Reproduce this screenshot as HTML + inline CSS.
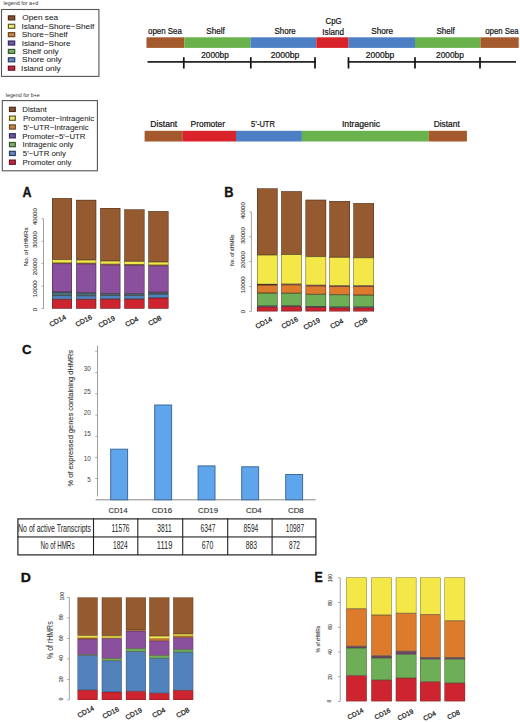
<!DOCTYPE html>
<html><head><meta charset="utf-8"><style>
html,body{margin:0;padding:0;background:#fff;}
body{width:520px;height:722px;position:relative;overflow:hidden;font-family:"Liberation Sans", sans-serif;}
body>div{position:absolute;}
.t{white-space:nowrap;line-height:1;}
</style></head><body>
<svg width="520" height="722" viewBox="0 0 520 722" style="position:absolute;left:0;top:0"><rect x="1.5" y="9.5" width="97.4" height="66.9" fill="none" stroke="#555" stroke-width="1.1"/><rect x="8.4" y="15.9" width="6.3" height="4" fill="#865234" stroke="#4e2d18" stroke-width="1.2"/><rect x="8.4" y="24.28" width="6.3" height="4" fill="#ece97a" stroke="#5e5a22" stroke-width="1.2"/><rect x="8.4" y="32.66" width="6.3" height="4" fill="#c4874a" stroke="#6e4520" stroke-width="1.2"/><rect x="8.4" y="41.04" width="6.3" height="4" fill="#6e5aa0" stroke="#3a2866" stroke-width="1.2"/><rect x="8.4" y="49.42" width="6.3" height="4" fill="#82ae6c" stroke="#32592a" stroke-width="1.2"/><rect x="8.4" y="57.8" width="6.3" height="4" fill="#6e87b9" stroke="#2a3c6e" stroke-width="1.2"/><rect x="8.4" y="66.18" width="6.3" height="4" fill="#be2a40" stroke="#6e1222" stroke-width="1.2"/><rect x="2.3" y="100.6" width="95.1" height="70.2" fill="none" stroke="#555" stroke-width="1.1"/><rect x="9.5" y="107.3" width="5.8" height="4.2" fill="#865234" stroke="#4e2d18" stroke-width="1.2"/><rect x="9.5" y="116.1" width="5.8" height="4.2" fill="#ece97a" stroke="#5e5a22" stroke-width="1.2"/><rect x="9.5" y="124.9" width="5.8" height="4.2" fill="#c4874a" stroke="#6e4520" stroke-width="1.2"/><rect x="9.5" y="133.7" width="5.8" height="4.2" fill="#6e5aa0" stroke="#3a2866" stroke-width="1.2"/><rect x="9.5" y="142.5" width="5.8" height="4.2" fill="#82ae6c" stroke="#32592a" stroke-width="1.2"/><rect x="9.5" y="151.3" width="5.8" height="4.2" fill="#6e87b9" stroke="#2a3c6e" stroke-width="1.2"/><rect x="9.5" y="160.1" width="5.8" height="4.2" fill="#be2a40" stroke="#6e1222" stroke-width="1.2"/><rect x="146.5" y="37.3" width="38" height="10.6" fill="#a45a2c"/><rect x="184.5" y="37.3" width="65.9" height="10.6" fill="#6ab24c"/><rect x="250.4" y="37.3" width="65.9" height="10.6" fill="#4d7fc4"/><rect x="316.3" y="37.3" width="32.3" height="10.6" fill="#d8232b"/><rect x="348.6" y="37.3" width="66.4" height="10.6" fill="#4d7fc4"/><rect x="415" y="37.3" width="65.4" height="10.6" fill="#6ab24c"/><rect x="480.4" y="37.3" width="38.3" height="10.6" fill="#a45a2c"/><rect x="147.5" y="61.1" width="168.3" height="1.6" fill="#111"/><rect x="347.8" y="61.1" width="168.2" height="1.6" fill="#111"/><rect x="182.95" y="57.2" width="1.7" height="11.3" fill="#111"/><rect x="249.95" y="57.2" width="1.7" height="11.3" fill="#111"/><rect x="314.15" y="57.2" width="1.7" height="11.3" fill="#111"/><rect x="347.65" y="57.2" width="1.7" height="11.3" fill="#111"/><rect x="414.15" y="57.2" width="1.7" height="11.3" fill="#111"/><rect x="479.15" y="57.2" width="1.7" height="11.3" fill="#111"/><rect x="144.6" y="130.8" width="37.7" height="10.7" fill="#a45a2c"/><rect x="182.3" y="130.8" width="53.7" height="10.7" fill="#d8232b"/><rect x="236" y="130.8" width="65.9" height="10.7" fill="#4d7fc4"/><rect x="301.9" y="130.8" width="126.6" height="10.7" fill="#6ab24c"/><rect x="428.5" y="130.8" width="38.4" height="10.7" fill="#a45a2c"/><rect x="43.2" y="218.8" width="0.8" height="89.8" fill="#8c8c8c"/><rect x="41.4" y="308.25" width="2.2" height="0.7" fill="#8c8c8c"/><rect x="41.4" y="285.8" width="2.2" height="0.7" fill="#8c8c8c"/><rect x="41.4" y="263.35" width="2.2" height="0.7" fill="#8c8c8c"/><rect x="41.4" y="240.9" width="2.2" height="0.7" fill="#8c8c8c"/><rect x="41.4" y="218.45" width="2.2" height="0.7" fill="#8c8c8c"/><rect x="52" y="198.2" width="20" height="61.4" fill="#965a31"/><rect x="52" y="259.6" width="20" height="3.4" fill="#f3e848"/><rect x="52" y="263" width="20" height="0.6" fill="#dd7b2d"/><rect x="52" y="263.6" width="20" height="28.4" fill="#8a509e"/><rect x="52" y="292" width="20" height="3.6" fill="#476f7c"/><rect x="52" y="295.6" width="20" height="3.7" fill="#5282bc"/><rect x="52" y="299.3" width="20" height="9.3" fill="#cd2430"/><rect x="52.23" y="198.42" width="19.55" height="60.95" fill="none" stroke="#2a1a14" stroke-width="0.45" stroke-opacity="0.8"/><rect x="52.23" y="259.83" width="19.55" height="2.95" fill="none" stroke="#2a1a14" stroke-width="0.45" stroke-opacity="0.8"/><rect x="52.23" y="263.23" width="19.55" height="0.15" fill="none" stroke="#2a1a14" stroke-width="0.45" stroke-opacity="0.8"/><rect x="52.23" y="263.83" width="19.55" height="27.95" fill="none" stroke="#2a1a14" stroke-width="0.45" stroke-opacity="0.8"/><rect x="52.23" y="292.23" width="19.55" height="3.15" fill="none" stroke="#2a1a14" stroke-width="0.45" stroke-opacity="0.8"/><rect x="52.23" y="295.83" width="19.55" height="3.25" fill="none" stroke="#2a1a14" stroke-width="0.45" stroke-opacity="0.8"/><rect x="52.23" y="299.53" width="19.55" height="8.85" fill="none" stroke="#2a1a14" stroke-width="0.45" stroke-opacity="0.8"/><rect x="76.2" y="199.9" width="20" height="60" fill="#965a31"/><rect x="76.2" y="259.9" width="20" height="3.3" fill="#f3e848"/><rect x="76.2" y="263.2" width="20" height="0.6" fill="#dd7b2d"/><rect x="76.2" y="263.8" width="20" height="29" fill="#8a509e"/><rect x="76.2" y="292.8" width="20" height="2.9" fill="#476f7c"/><rect x="76.2" y="295.7" width="20" height="3.6" fill="#5282bc"/><rect x="76.2" y="299.3" width="20" height="9.3" fill="#cd2430"/><rect x="76.42" y="200.12" width="19.55" height="59.55" fill="none" stroke="#2a1a14" stroke-width="0.45" stroke-opacity="0.8"/><rect x="76.42" y="260.12" width="19.55" height="2.85" fill="none" stroke="#2a1a14" stroke-width="0.45" stroke-opacity="0.8"/><rect x="76.42" y="263.43" width="19.55" height="0.15" fill="none" stroke="#2a1a14" stroke-width="0.45" stroke-opacity="0.8"/><rect x="76.42" y="264.03" width="19.55" height="28.55" fill="none" stroke="#2a1a14" stroke-width="0.45" stroke-opacity="0.8"/><rect x="76.42" y="293.03" width="19.55" height="2.45" fill="none" stroke="#2a1a14" stroke-width="0.45" stroke-opacity="0.8"/><rect x="76.42" y="295.93" width="19.55" height="3.15" fill="none" stroke="#2a1a14" stroke-width="0.45" stroke-opacity="0.8"/><rect x="76.42" y="299.53" width="19.55" height="8.85" fill="none" stroke="#2a1a14" stroke-width="0.45" stroke-opacity="0.8"/><rect x="100.3" y="208" width="20" height="52.9" fill="#965a31"/><rect x="100.3" y="260.9" width="20" height="3.3" fill="#f3e848"/><rect x="100.3" y="264.2" width="20" height="0.6" fill="#dd7b2d"/><rect x="100.3" y="264.8" width="20" height="28.8" fill="#8a509e"/><rect x="100.3" y="293.6" width="20" height="1.8" fill="#476f7c"/><rect x="100.3" y="295.4" width="20" height="3.7" fill="#5282bc"/><rect x="100.3" y="299.1" width="20" height="9.5" fill="#cd2430"/><rect x="100.52" y="208.22" width="19.55" height="52.45" fill="none" stroke="#2a1a14" stroke-width="0.45" stroke-opacity="0.8"/><rect x="100.52" y="261.12" width="19.55" height="2.85" fill="none" stroke="#2a1a14" stroke-width="0.45" stroke-opacity="0.8"/><rect x="100.52" y="264.43" width="19.55" height="0.15" fill="none" stroke="#2a1a14" stroke-width="0.45" stroke-opacity="0.8"/><rect x="100.52" y="265.03" width="19.55" height="28.35" fill="none" stroke="#2a1a14" stroke-width="0.45" stroke-opacity="0.8"/><rect x="100.52" y="293.83" width="19.55" height="1.35" fill="none" stroke="#2a1a14" stroke-width="0.45" stroke-opacity="0.8"/><rect x="100.52" y="295.62" width="19.55" height="3.25" fill="none" stroke="#2a1a14" stroke-width="0.45" stroke-opacity="0.8"/><rect x="100.52" y="299.33" width="19.55" height="9.05" fill="none" stroke="#2a1a14" stroke-width="0.45" stroke-opacity="0.8"/><rect x="124.4" y="209.5" width="20" height="51.8" fill="#965a31"/><rect x="124.4" y="261.3" width="20" height="3.3" fill="#f3e848"/><rect x="124.4" y="264.6" width="20" height="0.6" fill="#dd7b2d"/><rect x="124.4" y="265.2" width="20" height="28.5" fill="#8a509e"/><rect x="124.4" y="293.7" width="20" height="1.7" fill="#476f7c"/><rect x="124.4" y="295.4" width="20" height="3.7" fill="#5282bc"/><rect x="124.4" y="299.1" width="20" height="9.5" fill="#cd2430"/><rect x="124.62" y="209.72" width="19.55" height="51.35" fill="none" stroke="#2a1a14" stroke-width="0.45" stroke-opacity="0.8"/><rect x="124.62" y="261.53" width="19.55" height="2.85" fill="none" stroke="#2a1a14" stroke-width="0.45" stroke-opacity="0.8"/><rect x="124.62" y="264.83" width="19.55" height="0.15" fill="none" stroke="#2a1a14" stroke-width="0.45" stroke-opacity="0.8"/><rect x="124.62" y="265.43" width="19.55" height="28.05" fill="none" stroke="#2a1a14" stroke-width="0.45" stroke-opacity="0.8"/><rect x="124.62" y="293.93" width="19.55" height="1.25" fill="none" stroke="#2a1a14" stroke-width="0.45" stroke-opacity="0.8"/><rect x="124.62" y="295.62" width="19.55" height="3.25" fill="none" stroke="#2a1a14" stroke-width="0.45" stroke-opacity="0.8"/><rect x="124.62" y="299.33" width="19.55" height="9.05" fill="none" stroke="#2a1a14" stroke-width="0.45" stroke-opacity="0.8"/><rect x="148.4" y="211.2" width="20" height="50.7" fill="#965a31"/><rect x="148.4" y="261.9" width="20" height="3.2" fill="#f3e848"/><rect x="148.4" y="265.1" width="20" height="0.6" fill="#dd7b2d"/><rect x="148.4" y="265.7" width="20" height="26.5" fill="#8a509e"/><rect x="148.4" y="292.2" width="20" height="1.9" fill="#476f7c"/><rect x="148.4" y="294.1" width="20" height="3.9" fill="#5282bc"/><rect x="148.4" y="298" width="20" height="10.6" fill="#cd2430"/><rect x="148.62" y="211.42" width="19.55" height="50.25" fill="none" stroke="#2a1a14" stroke-width="0.45" stroke-opacity="0.8"/><rect x="148.62" y="262.12" width="19.55" height="2.75" fill="none" stroke="#2a1a14" stroke-width="0.45" stroke-opacity="0.8"/><rect x="148.62" y="265.33" width="19.55" height="0.15" fill="none" stroke="#2a1a14" stroke-width="0.45" stroke-opacity="0.8"/><rect x="148.62" y="265.93" width="19.55" height="26.05" fill="none" stroke="#2a1a14" stroke-width="0.45" stroke-opacity="0.8"/><rect x="148.62" y="292.43" width="19.55" height="1.45" fill="none" stroke="#2a1a14" stroke-width="0.45" stroke-opacity="0.8"/><rect x="148.62" y="294.33" width="19.55" height="3.45" fill="none" stroke="#2a1a14" stroke-width="0.45" stroke-opacity="0.8"/><rect x="148.62" y="298.23" width="19.55" height="10.15" fill="none" stroke="#2a1a14" stroke-width="0.45" stroke-opacity="0.8"/><rect x="250.9" y="211.98" width="0.8" height="99.32" fill="#8c8c8c"/><rect x="249.1" y="310.95" width="2.2" height="0.7" fill="#8c8c8c"/><rect x="249.1" y="286.12" width="2.2" height="0.7" fill="#8c8c8c"/><rect x="249.1" y="261.29" width="2.2" height="0.7" fill="#8c8c8c"/><rect x="249.1" y="236.46" width="2.2" height="0.7" fill="#8c8c8c"/><rect x="249.1" y="211.63" width="2.2" height="0.7" fill="#8c8c8c"/><rect x="257" y="188.5" width="20.5" height="66.4" fill="#965a31"/><rect x="257" y="254.9" width="20.5" height="29.4" fill="#f3e848"/><rect x="257" y="284.3" width="20.5" height="0.7" fill="#8a509e"/><rect x="257" y="285" width="20.5" height="8" fill="#dd7b2d"/><rect x="257" y="293" width="20.5" height="13" fill="#6dae56"/><rect x="257" y="306" width="20.5" height="0.8" fill="#5282bc"/><rect x="257" y="306.8" width="20.5" height="4.5" fill="#cd2430"/><rect x="257.23" y="188.72" width="20.05" height="65.95" fill="none" stroke="#2a1a14" stroke-width="0.45" stroke-opacity="0.8"/><rect x="257.23" y="255.12" width="20.05" height="28.95" fill="none" stroke="#2a1a14" stroke-width="0.45" stroke-opacity="0.8"/><rect x="257.23" y="284.53" width="20.05" height="0.25" fill="none" stroke="#2a1a14" stroke-width="0.45" stroke-opacity="0.8"/><rect x="257.23" y="285.23" width="20.05" height="7.55" fill="none" stroke="#2a1a14" stroke-width="0.45" stroke-opacity="0.8"/><rect x="257.23" y="293.23" width="20.05" height="12.55" fill="none" stroke="#2a1a14" stroke-width="0.45" stroke-opacity="0.8"/><rect x="257.23" y="306.23" width="20.05" height="0.35" fill="none" stroke="#2a1a14" stroke-width="0.45" stroke-opacity="0.8"/><rect x="257.23" y="307.03" width="20.05" height="4.05" fill="none" stroke="#2a1a14" stroke-width="0.45" stroke-opacity="0.8"/><rect x="281.3" y="191.3" width="20.5" height="63.2" fill="#965a31"/><rect x="281.3" y="254.5" width="20.5" height="29.6" fill="#f3e848"/><rect x="281.3" y="284.1" width="20.5" height="0.7" fill="#8a509e"/><rect x="281.3" y="284.8" width="20.5" height="8.4" fill="#dd7b2d"/><rect x="281.3" y="293.2" width="20.5" height="12.6" fill="#6dae56"/><rect x="281.3" y="305.8" width="20.5" height="0.8" fill="#5282bc"/><rect x="281.3" y="306.6" width="20.5" height="4.7" fill="#cd2430"/><rect x="281.53" y="191.53" width="20.05" height="62.75" fill="none" stroke="#2a1a14" stroke-width="0.45" stroke-opacity="0.8"/><rect x="281.53" y="254.72" width="20.05" height="29.15" fill="none" stroke="#2a1a14" stroke-width="0.45" stroke-opacity="0.8"/><rect x="281.53" y="284.33" width="20.05" height="0.25" fill="none" stroke="#2a1a14" stroke-width="0.45" stroke-opacity="0.8"/><rect x="281.53" y="285.03" width="20.05" height="7.95" fill="none" stroke="#2a1a14" stroke-width="0.45" stroke-opacity="0.8"/><rect x="281.53" y="293.43" width="20.05" height="12.15" fill="none" stroke="#2a1a14" stroke-width="0.45" stroke-opacity="0.8"/><rect x="281.53" y="306.03" width="20.05" height="0.35" fill="none" stroke="#2a1a14" stroke-width="0.45" stroke-opacity="0.8"/><rect x="281.53" y="306.83" width="20.05" height="4.25" fill="none" stroke="#2a1a14" stroke-width="0.45" stroke-opacity="0.8"/><rect x="305.6" y="199.8" width="20.5" height="56.8" fill="#965a31"/><rect x="305.6" y="256.6" width="20.5" height="28.6" fill="#f3e848"/><rect x="305.6" y="285.2" width="20.5" height="0.7" fill="#8a509e"/><rect x="305.6" y="285.9" width="20.5" height="8.4" fill="#dd7b2d"/><rect x="305.6" y="294.3" width="20.5" height="12.2" fill="#6dae56"/><rect x="305.6" y="306.5" width="20.5" height="0.8" fill="#5282bc"/><rect x="305.6" y="307.3" width="20.5" height="4" fill="#cd2430"/><rect x="305.83" y="200.03" width="20.05" height="56.35" fill="none" stroke="#2a1a14" stroke-width="0.45" stroke-opacity="0.8"/><rect x="305.83" y="256.83" width="20.05" height="28.15" fill="none" stroke="#2a1a14" stroke-width="0.45" stroke-opacity="0.8"/><rect x="305.83" y="285.43" width="20.05" height="0.25" fill="none" stroke="#2a1a14" stroke-width="0.45" stroke-opacity="0.8"/><rect x="305.83" y="286.12" width="20.05" height="7.95" fill="none" stroke="#2a1a14" stroke-width="0.45" stroke-opacity="0.8"/><rect x="305.83" y="294.53" width="20.05" height="11.75" fill="none" stroke="#2a1a14" stroke-width="0.45" stroke-opacity="0.8"/><rect x="305.83" y="306.73" width="20.05" height="0.35" fill="none" stroke="#2a1a14" stroke-width="0.45" stroke-opacity="0.8"/><rect x="305.83" y="307.53" width="20.05" height="3.55" fill="none" stroke="#2a1a14" stroke-width="0.45" stroke-opacity="0.8"/><rect x="329.5" y="201.1" width="20.5" height="56.2" fill="#965a31"/><rect x="329.5" y="257.3" width="20.5" height="28.5" fill="#f3e848"/><rect x="329.5" y="285.8" width="20.5" height="0.7" fill="#8a509e"/><rect x="329.5" y="286.5" width="20.5" height="8.2" fill="#dd7b2d"/><rect x="329.5" y="294.7" width="20.5" height="12.3" fill="#6dae56"/><rect x="329.5" y="307" width="20.5" height="0.8" fill="#5282bc"/><rect x="329.5" y="307.8" width="20.5" height="3.5" fill="#cd2430"/><rect x="329.73" y="201.32" width="20.05" height="55.75" fill="none" stroke="#2a1a14" stroke-width="0.45" stroke-opacity="0.8"/><rect x="329.73" y="257.53" width="20.05" height="28.05" fill="none" stroke="#2a1a14" stroke-width="0.45" stroke-opacity="0.8"/><rect x="329.73" y="286.03" width="20.05" height="0.25" fill="none" stroke="#2a1a14" stroke-width="0.45" stroke-opacity="0.8"/><rect x="329.73" y="286.73" width="20.05" height="7.75" fill="none" stroke="#2a1a14" stroke-width="0.45" stroke-opacity="0.8"/><rect x="329.73" y="294.93" width="20.05" height="11.85" fill="none" stroke="#2a1a14" stroke-width="0.45" stroke-opacity="0.8"/><rect x="329.73" y="307.23" width="20.05" height="0.35" fill="none" stroke="#2a1a14" stroke-width="0.45" stroke-opacity="0.8"/><rect x="329.73" y="308.03" width="20.05" height="3.05" fill="none" stroke="#2a1a14" stroke-width="0.45" stroke-opacity="0.8"/><rect x="353.5" y="203.2" width="20.5" height="54.5" fill="#965a31"/><rect x="353.5" y="257.7" width="20.5" height="28.1" fill="#f3e848"/><rect x="353.5" y="285.8" width="20.5" height="0.7" fill="#8a509e"/><rect x="353.5" y="286.5" width="20.5" height="8.6" fill="#dd7b2d"/><rect x="353.5" y="295.1" width="20.5" height="11.9" fill="#6dae56"/><rect x="353.5" y="307" width="20.5" height="0.8" fill="#5282bc"/><rect x="353.5" y="307.8" width="20.5" height="3.5" fill="#cd2430"/><rect x="353.73" y="203.42" width="20.05" height="54.05" fill="none" stroke="#2a1a14" stroke-width="0.45" stroke-opacity="0.8"/><rect x="353.73" y="257.93" width="20.05" height="27.65" fill="none" stroke="#2a1a14" stroke-width="0.45" stroke-opacity="0.8"/><rect x="353.73" y="286.03" width="20.05" height="0.25" fill="none" stroke="#2a1a14" stroke-width="0.45" stroke-opacity="0.8"/><rect x="353.73" y="286.73" width="20.05" height="8.15" fill="none" stroke="#2a1a14" stroke-width="0.45" stroke-opacity="0.8"/><rect x="353.73" y="295.33" width="20.05" height="11.45" fill="none" stroke="#2a1a14" stroke-width="0.45" stroke-opacity="0.8"/><rect x="353.73" y="307.23" width="20.05" height="0.35" fill="none" stroke="#2a1a14" stroke-width="0.45" stroke-opacity="0.8"/><rect x="353.73" y="308.03" width="20.05" height="3.05" fill="none" stroke="#2a1a14" stroke-width="0.45" stroke-opacity="0.8"/><rect x="97" y="345.7" width="0.8" height="150.8" fill="#888"/><rect x="95.2" y="350.85" width="2.2" height="0.7" fill="#888"/><rect x="95.2" y="372.35" width="2.2" height="0.7" fill="#888"/><rect x="95.2" y="393.55" width="2.2" height="0.7" fill="#888"/><rect x="95.2" y="414.75" width="2.2" height="0.7" fill="#888"/><rect x="95.2" y="435.85" width="2.2" height="0.7" fill="#888"/><rect x="95.2" y="456.95" width="2.2" height="0.7" fill="#888"/><rect x="95.2" y="478.05" width="2.2" height="0.7" fill="#888"/><rect x="95.6" y="499.3" width="220" height="1" fill="#888"/><rect x="110.7" y="449.2" width="16.9" height="50.6" fill="#5fa5eb" stroke="#3f6a9c" stroke-width="1"/><rect x="154.7" y="405" width="16.9" height="94.8" fill="#5fa5eb" stroke="#3f6a9c" stroke-width="1"/><rect x="198.1" y="465.9" width="16.9" height="33.9" fill="#5fa5eb" stroke="#3f6a9c" stroke-width="1"/><rect x="241.7" y="466.8" width="16.9" height="33" fill="#5fa5eb" stroke="#3f6a9c" stroke-width="1"/><rect x="285.7" y="474.5" width="16.9" height="25.3" fill="#5fa5eb" stroke="#3f6a9c" stroke-width="1"/><rect x="17.9" y="518.9" width="298" height="36" fill="none" stroke="#222" stroke-width="1.2"/><rect x="17.3" y="536.4" width="298.7" height="1.1" fill="#222"/><rect x="92.95" y="518.3" width="1.1" height="36.7" fill="#222"/><rect x="137.25" y="518.3" width="1.1" height="36.7" fill="#222"/><rect x="182.15" y="518.3" width="1.1" height="36.7" fill="#222"/><rect x="227.15" y="518.3" width="1.1" height="36.7" fill="#222"/><rect x="271.55" y="518.3" width="1.1" height="36.7" fill="#222"/><rect x="68.9" y="597.4" width="0.8" height="102.5" fill="#8c8c8c"/><rect x="67.1" y="699.55" width="2.2" height="0.7" fill="#8c8c8c"/><rect x="67.1" y="679.05" width="2.2" height="0.7" fill="#8c8c8c"/><rect x="67.1" y="658.55" width="2.2" height="0.7" fill="#8c8c8c"/><rect x="67.1" y="638.05" width="2.2" height="0.7" fill="#8c8c8c"/><rect x="67.1" y="617.55" width="2.2" height="0.7" fill="#8c8c8c"/><rect x="67.1" y="597.05" width="2.2" height="0.7" fill="#8c8c8c"/><rect x="77.6" y="597.5" width="20" height="38.2" fill="#965a31"/><rect x="77.6" y="635.7" width="20" height="2.3" fill="#f3e848"/><rect x="77.6" y="638" width="20" height="1.1" fill="#dd7b2d"/><rect x="77.6" y="639.1" width="20" height="15.5" fill="#8a509e"/><rect x="77.6" y="654.6" width="20" height="0.8" fill="#6dae56"/><rect x="77.6" y="655.4" width="20" height="34.7" fill="#5282bc"/><rect x="77.6" y="690.1" width="20" height="9.9" fill="#cd2430"/><rect x="77.8" y="597.7" width="19.6" height="37.8" fill="none" stroke="#2a1a14" stroke-width="0.4" stroke-opacity="0.55"/><rect x="77.8" y="635.9" width="19.6" height="1.9" fill="none" stroke="#2a1a14" stroke-width="0.4" stroke-opacity="0.55"/><rect x="77.8" y="638.2" width="19.6" height="0.7" fill="none" stroke="#2a1a14" stroke-width="0.4" stroke-opacity="0.55"/><rect x="77.8" y="639.3" width="19.6" height="15.1" fill="none" stroke="#2a1a14" stroke-width="0.4" stroke-opacity="0.55"/><rect x="77.8" y="654.8" width="19.6" height="0.4" fill="none" stroke="#2a1a14" stroke-width="0.4" stroke-opacity="0.55"/><rect x="77.8" y="655.6" width="19.6" height="34.3" fill="none" stroke="#2a1a14" stroke-width="0.4" stroke-opacity="0.55"/><rect x="77.8" y="690.3" width="19.6" height="9.5" fill="none" stroke="#2a1a14" stroke-width="0.4" stroke-opacity="0.55"/><rect x="101.8" y="597.5" width="20" height="38.4" fill="#965a31"/><rect x="101.8" y="635.9" width="20" height="2.2" fill="#f3e848"/><rect x="101.8" y="638.1" width="20" height="0.4" fill="#dd7b2d"/><rect x="101.8" y="638.5" width="20" height="20" fill="#8a509e"/><rect x="101.8" y="658.5" width="20" height="2.3" fill="#6dae56"/><rect x="101.8" y="660.8" width="20" height="31.2" fill="#5282bc"/><rect x="101.8" y="692" width="20" height="8" fill="#cd2430"/><rect x="102" y="597.7" width="19.6" height="38" fill="none" stroke="#2a1a14" stroke-width="0.4" stroke-opacity="0.55"/><rect x="102" y="636.1" width="19.6" height="1.8" fill="none" stroke="#2a1a14" stroke-width="0.4" stroke-opacity="0.55"/><rect x="102" y="638.3" width="19.6" height="0.01" fill="none" stroke="#2a1a14" stroke-width="0.4" stroke-opacity="0.55"/><rect x="102" y="638.7" width="19.6" height="19.6" fill="none" stroke="#2a1a14" stroke-width="0.4" stroke-opacity="0.55"/><rect x="102" y="658.7" width="19.6" height="1.9" fill="none" stroke="#2a1a14" stroke-width="0.4" stroke-opacity="0.55"/><rect x="102" y="661" width="19.6" height="30.8" fill="none" stroke="#2a1a14" stroke-width="0.4" stroke-opacity="0.55"/><rect x="102" y="692.2" width="19.6" height="7.6" fill="none" stroke="#2a1a14" stroke-width="0.4" stroke-opacity="0.55"/><rect x="125.9" y="597.5" width="20" height="32.5" fill="#965a31"/><rect x="125.9" y="630" width="20" height="0.4" fill="#f3e848"/><rect x="125.9" y="630.4" width="20" height="0.6" fill="#dd7b2d"/><rect x="125.9" y="631" width="20" height="17.6" fill="#8a509e"/><rect x="125.9" y="648.6" width="20" height="3" fill="#6dae56"/><rect x="125.9" y="651.6" width="20" height="39.7" fill="#5282bc"/><rect x="125.9" y="691.3" width="20" height="8.7" fill="#cd2430"/><rect x="126.1" y="597.7" width="19.6" height="32.1" fill="none" stroke="#2a1a14" stroke-width="0.4" stroke-opacity="0.55"/><rect x="126.1" y="630.2" width="19.6" height="0.01" fill="none" stroke="#2a1a14" stroke-width="0.4" stroke-opacity="0.55"/><rect x="126.1" y="630.6" width="19.6" height="0.2" fill="none" stroke="#2a1a14" stroke-width="0.4" stroke-opacity="0.55"/><rect x="126.1" y="631.2" width="19.6" height="17.2" fill="none" stroke="#2a1a14" stroke-width="0.4" stroke-opacity="0.55"/><rect x="126.1" y="648.8" width="19.6" height="2.6" fill="none" stroke="#2a1a14" stroke-width="0.4" stroke-opacity="0.55"/><rect x="126.1" y="651.8" width="19.6" height="39.3" fill="none" stroke="#2a1a14" stroke-width="0.4" stroke-opacity="0.55"/><rect x="126.1" y="691.5" width="19.6" height="8.3" fill="none" stroke="#2a1a14" stroke-width="0.4" stroke-opacity="0.55"/><rect x="149.3" y="597.5" width="20" height="38.6" fill="#965a31"/><rect x="149.3" y="636.1" width="20" height="2.7" fill="#f3e848"/><rect x="149.3" y="638.8" width="20" height="2.1" fill="#dd7b2d"/><rect x="149.3" y="640.9" width="20" height="14.5" fill="#8a509e"/><rect x="149.3" y="655.4" width="20" height="2.9" fill="#6dae56"/><rect x="149.3" y="658.3" width="20" height="34.9" fill="#5282bc"/><rect x="149.3" y="693.2" width="20" height="6.8" fill="#cd2430"/><rect x="149.5" y="597.7" width="19.6" height="38.2" fill="none" stroke="#2a1a14" stroke-width="0.4" stroke-opacity="0.55"/><rect x="149.5" y="636.3" width="19.6" height="2.3" fill="none" stroke="#2a1a14" stroke-width="0.4" stroke-opacity="0.55"/><rect x="149.5" y="639" width="19.6" height="1.7" fill="none" stroke="#2a1a14" stroke-width="0.4" stroke-opacity="0.55"/><rect x="149.5" y="641.1" width="19.6" height="14.1" fill="none" stroke="#2a1a14" stroke-width="0.4" stroke-opacity="0.55"/><rect x="149.5" y="655.6" width="19.6" height="2.5" fill="none" stroke="#2a1a14" stroke-width="0.4" stroke-opacity="0.55"/><rect x="149.5" y="658.5" width="19.6" height="34.5" fill="none" stroke="#2a1a14" stroke-width="0.4" stroke-opacity="0.55"/><rect x="149.5" y="693.4" width="19.6" height="6.4" fill="none" stroke="#2a1a14" stroke-width="0.4" stroke-opacity="0.55"/><rect x="173.2" y="597.5" width="20" height="36.5" fill="#965a31"/><rect x="173.2" y="634" width="20" height="2.1" fill="#f3e848"/><rect x="173.2" y="636.1" width="20" height="1.6" fill="#dd7b2d"/><rect x="173.2" y="637.7" width="20" height="11.8" fill="#8a509e"/><rect x="173.2" y="649.5" width="20" height="2.7" fill="#6dae56"/><rect x="173.2" y="652.2" width="20" height="38.1" fill="#5282bc"/><rect x="173.2" y="690.3" width="20" height="9.7" fill="#cd2430"/><rect x="173.4" y="597.7" width="19.6" height="36.1" fill="none" stroke="#2a1a14" stroke-width="0.4" stroke-opacity="0.55"/><rect x="173.4" y="634.2" width="19.6" height="1.7" fill="none" stroke="#2a1a14" stroke-width="0.4" stroke-opacity="0.55"/><rect x="173.4" y="636.3" width="19.6" height="1.2" fill="none" stroke="#2a1a14" stroke-width="0.4" stroke-opacity="0.55"/><rect x="173.4" y="637.9" width="19.6" height="11.4" fill="none" stroke="#2a1a14" stroke-width="0.4" stroke-opacity="0.55"/><rect x="173.4" y="649.7" width="19.6" height="2.3" fill="none" stroke="#2a1a14" stroke-width="0.4" stroke-opacity="0.55"/><rect x="173.4" y="652.4" width="19.6" height="37.7" fill="none" stroke="#2a1a14" stroke-width="0.4" stroke-opacity="0.55"/><rect x="173.4" y="690.5" width="19.6" height="9.3" fill="none" stroke="#2a1a14" stroke-width="0.4" stroke-opacity="0.55"/><rect x="339.8" y="577.8" width="0.8" height="123.7" fill="#8c8c8c"/><rect x="338" y="701.15" width="2.2" height="0.7" fill="#8c8c8c"/><rect x="338" y="676.41" width="2.2" height="0.7" fill="#8c8c8c"/><rect x="338" y="651.67" width="2.2" height="0.7" fill="#8c8c8c"/><rect x="338" y="626.93" width="2.2" height="0.7" fill="#8c8c8c"/><rect x="338" y="602.19" width="2.2" height="0.7" fill="#8c8c8c"/><rect x="338" y="577.45" width="2.2" height="0.7" fill="#8c8c8c"/><rect x="346.2" y="577.5" width="20.6" height="31.25" fill="#f3e848"/><rect x="346.2" y="608.75" width="20.6" height="37.5" fill="#dd7b2d"/><rect x="346.2" y="646.25" width="20.6" height="1.75" fill="#6e4468"/><rect x="346.2" y="648" width="20.6" height="27.5" fill="#6dae56"/><rect x="346.2" y="675.5" width="20.6" height="25.8" fill="#cd2430"/><rect x="346.45" y="577.75" width="20.1" height="30.75" fill="none" stroke="#4a4a3a" stroke-width="0.5" stroke-opacity="0.7"/><rect x="346.45" y="609" width="20.1" height="37" fill="none" stroke="#4a4a3a" stroke-width="0.5" stroke-opacity="0.7"/><rect x="346.45" y="646.5" width="20.1" height="1.25" fill="none" stroke="#4a4a3a" stroke-width="0.5" stroke-opacity="0.7"/><rect x="346.45" y="648.25" width="20.1" height="27" fill="none" stroke="#4a4a3a" stroke-width="0.5" stroke-opacity="0.7"/><rect x="346.45" y="675.75" width="20.1" height="25.3" fill="none" stroke="#4a4a3a" stroke-width="0.5" stroke-opacity="0.7"/><rect x="371.3" y="577.5" width="20.6" height="37.5" fill="#f3e848"/><rect x="371.3" y="615" width="20.6" height="40.75" fill="#dd7b2d"/><rect x="371.3" y="655.75" width="20.6" height="2.25" fill="#6e4468"/><rect x="371.3" y="658" width="20.6" height="22" fill="#6dae56"/><rect x="371.3" y="680" width="20.6" height="21.3" fill="#cd2430"/><rect x="371.55" y="577.75" width="20.1" height="37" fill="none" stroke="#4a4a3a" stroke-width="0.5" stroke-opacity="0.7"/><rect x="371.55" y="615.25" width="20.1" height="40.25" fill="none" stroke="#4a4a3a" stroke-width="0.5" stroke-opacity="0.7"/><rect x="371.55" y="656" width="20.1" height="1.75" fill="none" stroke="#4a4a3a" stroke-width="0.5" stroke-opacity="0.7"/><rect x="371.55" y="658.25" width="20.1" height="21.5" fill="none" stroke="#4a4a3a" stroke-width="0.5" stroke-opacity="0.7"/><rect x="371.55" y="680.25" width="20.1" height="20.8" fill="none" stroke="#4a4a3a" stroke-width="0.5" stroke-opacity="0.7"/><rect x="395.8" y="577.5" width="20.6" height="35.75" fill="#f3e848"/><rect x="395.8" y="613.25" width="20.6" height="38" fill="#dd7b2d"/><rect x="395.8" y="651.25" width="20.6" height="3.25" fill="#6e4468"/><rect x="395.8" y="654.5" width="20.6" height="23.5" fill="#6dae56"/><rect x="395.8" y="678" width="20.6" height="23.3" fill="#cd2430"/><rect x="396.05" y="577.75" width="20.1" height="35.25" fill="none" stroke="#4a4a3a" stroke-width="0.5" stroke-opacity="0.7"/><rect x="396.05" y="613.5" width="20.1" height="37.5" fill="none" stroke="#4a4a3a" stroke-width="0.5" stroke-opacity="0.7"/><rect x="396.05" y="651.5" width="20.1" height="2.75" fill="none" stroke="#4a4a3a" stroke-width="0.5" stroke-opacity="0.7"/><rect x="396.05" y="654.75" width="20.1" height="23" fill="none" stroke="#4a4a3a" stroke-width="0.5" stroke-opacity="0.7"/><rect x="396.05" y="678.25" width="20.1" height="22.8" fill="none" stroke="#4a4a3a" stroke-width="0.5" stroke-opacity="0.7"/><rect x="420" y="577.5" width="20.6" height="37" fill="#f3e848"/><rect x="420" y="614.5" width="20.6" height="43" fill="#dd7b2d"/><rect x="420" y="657.5" width="20.6" height="1.75" fill="#6e4468"/><rect x="420" y="659.25" width="20.6" height="22.5" fill="#6dae56"/><rect x="420" y="681.75" width="20.6" height="19.55" fill="#cd2430"/><rect x="420.25" y="577.75" width="20.1" height="36.5" fill="none" stroke="#4a4a3a" stroke-width="0.5" stroke-opacity="0.7"/><rect x="420.25" y="614.75" width="20.1" height="42.5" fill="none" stroke="#4a4a3a" stroke-width="0.5" stroke-opacity="0.7"/><rect x="420.25" y="657.75" width="20.1" height="1.25" fill="none" stroke="#4a4a3a" stroke-width="0.5" stroke-opacity="0.7"/><rect x="420.25" y="659.5" width="20.1" height="22" fill="none" stroke="#4a4a3a" stroke-width="0.5" stroke-opacity="0.7"/><rect x="420.25" y="682" width="20.1" height="19.05" fill="none" stroke="#4a4a3a" stroke-width="0.5" stroke-opacity="0.7"/><rect x="444.5" y="577.5" width="20.6" height="43.25" fill="#f3e848"/><rect x="444.5" y="620.75" width="20.6" height="36.75" fill="#dd7b2d"/><rect x="444.5" y="657.5" width="20.6" height="1.75" fill="#6e4468"/><rect x="444.5" y="659.25" width="20.6" height="23.75" fill="#6dae56"/><rect x="444.5" y="683" width="20.6" height="18.3" fill="#cd2430"/><rect x="444.75" y="577.75" width="20.1" height="42.75" fill="none" stroke="#4a4a3a" stroke-width="0.5" stroke-opacity="0.7"/><rect x="444.75" y="621" width="20.1" height="36.25" fill="none" stroke="#4a4a3a" stroke-width="0.5" stroke-opacity="0.7"/><rect x="444.75" y="657.75" width="20.1" height="1.25" fill="none" stroke="#4a4a3a" stroke-width="0.5" stroke-opacity="0.7"/><rect x="444.75" y="659.5" width="20.1" height="23.25" fill="none" stroke="#4a4a3a" stroke-width="0.5" stroke-opacity="0.7"/><rect x="444.75" y="683.25" width="20.1" height="17.8" fill="none" stroke="#4a4a3a" stroke-width="0.5" stroke-opacity="0.7"/></svg>
<div class="t" style="left:3.54px;top:0.81px;font-size:5.4px;color:#333;">legend for a+d</div>
<div class="t" style="left:23.61px;top:14.44px;font-size:7.5px;color:#222;transform-origin:16.46px 3.33px;transform:scaleX(1.1050);-webkit-text-stroke:0.05px #222;">Open sea</div>
<div class="t" style="left:25.05px;top:22.83px;font-size:7.5px;color:#222;transform-origin:33.3px 3.33px;transform:scaleX(1.1050);-webkit-text-stroke:0.05px #222;">Island−Shore−Shelf</div>
<div class="t" style="left:24.08px;top:31.2px;font-size:7.5px;color:#222;transform-origin:20.93px 3.33px;transform:scaleX(1.1050);-webkit-text-stroke:0.05px #222;">Shore−Shelf</div>
<div class="t" style="left:23.9px;top:39.59px;font-size:7.5px;color:#222;transform-origin:22.35px 3.33px;transform:scaleX(1.1050);-webkit-text-stroke:0.05px #222;">Island−Shore</div>
<div class="t" style="left:23.63px;top:47.97px;font-size:7.5px;color:#222;transform-origin:16.65px 3.33px;transform:scaleX(1.1050);-webkit-text-stroke:0.05px #222;">Shelf only</div>
<div class="t" style="left:23.79px;top:56.35px;font-size:7.5px;color:#222;transform-origin:18.11px 3.33px;transform:scaleX(1.1050);-webkit-text-stroke:0.05px #222;">Shore only</div>
<div class="t" style="left:23.47px;top:64.73px;font-size:7.5px;color:#222;transform-origin:18.26px 3.33px;transform:scaleX(1.1050);-webkit-text-stroke:0.05px #222;">Island only</div>
<div class="t" style="left:5.81px;top:92.57px;font-size:5.3px;color:#333;">legend for b+e</div>
<div class="t" style="left:23.28px;top:106.13px;font-size:7.4px;color:#222;transform-origin:11.77px 3.28px;transform:scaleX(1.0600);-webkit-text-stroke:0.05px #222;">Distant</div>
<div class="t" style="left:24.6px;top:114.93px;font-size:7.4px;color:#222;transform-origin:33.82px 3.28px;transform:scaleX(1.0600);-webkit-text-stroke:0.05px #222;">Promoter−Intragenic</div>
<div class="t" style="left:24.74px;top:123.73px;font-size:7.4px;color:#222;transform-origin:30.97px 3.28px;transform:scaleX(1.0600);-webkit-text-stroke:0.05px #222;">5'−UTR−Intragenic</div>
<div class="t" style="left:24.37px;top:132.53px;font-size:7.4px;color:#222;transform-origin:30.01px 3.28px;transform:scaleX(1.0600);-webkit-text-stroke:0.05px #222;">Promoter−5'−UTR</div>
<div class="t" style="left:23.96px;top:141.33px;font-size:7.4px;color:#222;transform-origin:24.38px 3.28px;transform:scaleX(1.0600);-webkit-text-stroke:0.05px #222;">Intragenic only</div>
<div class="t" style="left:24.12px;top:150.13px;font-size:7.4px;color:#222;transform-origin:20.5px 3.28px;transform:scaleX(1.0600);-webkit-text-stroke:0.05px #222;">5'−UTR only</div>
<div class="t" style="left:23.97px;top:158.93px;font-size:7.4px;color:#222;transform-origin:23.31px 3.28px;transform:scaleX(1.0600);-webkit-text-stroke:0.05px #222;">Promoter only</div>
<div class="t" style="left:147.01px;top:27.28px;font-size:8.4px;color:#111;transform-origin:18.19px 3.78px;transform:scaleX(0.9468);-webkit-text-stroke:0.2px #111;">open Sea</div>
<div class="t" style="left:206.16px;top:27.08px;font-size:8.4px;color:#111;transform-origin:9.79px 3.78px;transform:scaleX(0.9663);-webkit-text-stroke:0.2px #111;">Shelf</div>
<div class="t" style="left:274.34px;top:27.08px;font-size:8.4px;color:#111;transform-origin:11.21px 3.78px;transform:scaleX(0.9496);-webkit-text-stroke:0.2px #111;">Shore</div>
<div class="t" style="left:325.12px;top:17.28px;font-size:8.4px;color:#111;transform-origin:8.53px 3.78px;transform:scaleX(0.9314);-webkit-text-stroke:0.2px #111;">CpG</div>
<div class="t" style="left:322.1px;top:27.58px;font-size:8.4px;color:#111;transform-origin:11.3px 3.78px;transform:scaleX(0.9676);-webkit-text-stroke:0.2px #111;">Island</div>
<div class="t" style="left:371.04px;top:27.08px;font-size:8.4px;color:#111;transform-origin:11.21px 3.78px;transform:scaleX(0.9774);-webkit-text-stroke:0.2px #111;">Shore</div>
<div class="t" style="left:436.41px;top:27.08px;font-size:8.4px;color:#111;transform-origin:9.79px 3.78px;transform:scaleX(0.9609);-webkit-text-stroke:0.2px #111;">Shelf</div>
<div class="t" style="left:483.66px;top:27.28px;font-size:8.4px;color:#111;transform-origin:18.19px 3.78px;transform:scaleX(0.9328);-webkit-text-stroke:0.2px #111;">open Sea</div>
<div class="t" style="left:201.48px;top:51.08px;font-size:8.4px;color:#111;transform-origin:14.07px 3.78px;transform:scaleX(0.9853);-webkit-text-stroke:0.2px #111;">2000bp</div>
<div class="t" style="left:270.58px;top:51.08px;font-size:8.4px;color:#111;transform-origin:14.07px 3.78px;transform:scaleX(1.0220);-webkit-text-stroke:0.2px #111;">2000bp</div>
<div class="t" style="left:365.83px;top:51.08px;font-size:8.4px;color:#111;transform-origin:14.07px 3.78px;transform:scaleX(1.0183);-webkit-text-stroke:0.2px #111;">2000bp</div>
<div class="t" style="left:435.68px;top:51.08px;font-size:8.4px;color:#111;transform-origin:14.07px 3.78px;transform:scaleX(0.9927);-webkit-text-stroke:0.2px #111;">2000bp</div>
<div class="t" style="left:150.96px;top:120.85px;font-size:8.2px;color:#111;transform-origin:13.04px 3.68px;transform:scaleX(1.0499);-webkit-text-stroke:0.2px #111;">Distant</div>
<div class="t" style="left:191.36px;top:120.85px;font-size:8.2px;color:#111;transform-origin:17.14px 3.68px;transform:scaleX(1.0254);-webkit-text-stroke:0.2px #111;">Promoter</div>
<div class="t" style="left:250.14px;top:120.85px;font-size:8.2px;color:#111;transform-origin:12.91px 3.68px;transform:scaleX(0.9176);-webkit-text-stroke:0.2px #111;">5’-UTR</div>
<div class="t" style="left:342.65px;top:120.85px;font-size:8.2px;color:#111;transform-origin:18.24px 3.68px;transform:scaleX(1.0567);-webkit-text-stroke:0.2px #111;">Intragenic</div>
<div class="t" style="left:434.41px;top:120.85px;font-size:8.2px;color:#111;transform-origin:13.04px 3.68px;transform:scaleX(1.0216);-webkit-text-stroke:0.2px #111;">Distant</div>
<div class="t" style="left:21.77px;top:186.01px;font-size:13.71px;color:#111;font-weight:bold;transform-origin:5.01px 6.44px;transform:scaleX(0.9087);-webkit-text-stroke:0.35px #111;">A</div>
<div class="t" style="left:32.99px;top:307.07px;font-size:6.1px;color:#333;transform-origin:1.71px 2.63px;transform:scaleX(0.95) rotate(-90deg);-webkit-text-stroke:0.1px #444;">0</div>
<div class="t" style="left:26.1px;top:285.97px;font-size:6.1px;color:#333;transform-origin:8.6px 2.63px;transform:scaleX(0.95) rotate(-90deg);-webkit-text-stroke:0.1px #444;">10000</div>
<div class="t" style="left:26.19px;top:263.67px;font-size:6.1px;color:#333;transform-origin:8.51px 2.63px;transform:scaleX(0.95) rotate(-90deg);-webkit-text-stroke:0.1px #444;">20000</div>
<div class="t" style="left:26.22px;top:236.57px;font-size:6.1px;color:#333;transform-origin:8.48px 2.63px;transform:scaleX(0.95) rotate(-90deg);-webkit-text-stroke:0.1px #444;">30000</div>
<div class="t" style="left:26.28px;top:213.67px;font-size:6.1px;color:#333;transform-origin:8.42px 2.63px;transform:scaleX(0.95) rotate(-90deg);-webkit-text-stroke:0.1px #444;">40000</div>
<div class="t" style="left:5.91px;top:244.22px;font-size:6.2px;color:#333;transform-origin:19.59px 2.68px;transform:rotate(-90deg) scaleX(0.9950);-webkit-text-stroke:0.1px #444;">No. of dHMRs</div>
<div class="t" style="left:49.3px;top:317.77px;font-size:6.9px;color:#222;transform-origin:8.9px 3.03px;transform:rotate(-28deg);-webkit-text-stroke:0.25px #222;">CD14</div>
<div class="t" style="left:75.27px;top:317.87px;font-size:6.9px;color:#222;transform-origin:8.83px 3.03px;transform:rotate(-28deg);-webkit-text-stroke:0.25px #222;">CD16</div>
<div class="t" style="left:98.07px;top:319.27px;font-size:6.9px;color:#222;transform-origin:8.83px 3.03px;transform:rotate(-28deg);-webkit-text-stroke:0.25px #222;">CD19</div>
<div class="t" style="left:124.93px;top:318.87px;font-size:6.9px;color:#222;transform-origin:6.97px 3.03px;transform:rotate(-28deg);-webkit-text-stroke:0.25px #222;">CD4</div>
<div class="t" style="left:148.4px;top:318.17px;font-size:6.9px;color:#222;transform-origin:6.9px 3.03px;transform:rotate(-28deg);-webkit-text-stroke:0.25px #222;">CD8</div>
<div class="t" style="left:223.91px;top:186.01px;font-size:13.71px;color:#111;font-weight:bold;transform-origin:5.14px 6.44px;transform:scaleX(0.9324);-webkit-text-stroke:0.35px #111;">B</div>
<div class="t" style="left:241.19px;top:308.87px;font-size:6.1px;color:#333;transform-origin:1.71px 2.63px;transform:scaleX(0.95) rotate(-90deg);-webkit-text-stroke:0.1px #444;">0</div>
<div class="t" style="left:234.3px;top:282.27px;font-size:6.1px;color:#333;transform-origin:8.6px 2.63px;transform:scaleX(0.95) rotate(-90deg);-webkit-text-stroke:0.1px #444;">10000</div>
<div class="t" style="left:234.39px;top:257.37px;font-size:6.1px;color:#333;transform-origin:8.51px 2.63px;transform:scaleX(0.95) rotate(-90deg);-webkit-text-stroke:0.1px #444;">20000</div>
<div class="t" style="left:234.42px;top:232.87px;font-size:6.1px;color:#333;transform-origin:8.48px 2.63px;transform:scaleX(0.95) rotate(-90deg);-webkit-text-stroke:0.1px #444;">30000</div>
<div class="t" style="left:234.48px;top:208.37px;font-size:6.1px;color:#333;transform-origin:8.42px 2.63px;transform:scaleX(0.95) rotate(-90deg);-webkit-text-stroke:0.1px #444;">40000</div>
<div class="t" style="left:216.2px;top:247.52px;font-size:5px;color:#333;transform-origin:15.8px 2.08px;transform:scaleX(1.1) rotate(-90deg) scaleX(1.0032);-webkit-text-stroke:0.1px #444;">No. of dHMRs</div>
<div class="t" style="left:254.6px;top:320.07px;font-size:6.9px;color:#222;transform-origin:8.9px 3.03px;transform:rotate(-28deg);-webkit-text-stroke:0.25px #222;">CD14</div>
<div class="t" style="left:280.57px;top:319.67px;font-size:6.9px;color:#222;transform-origin:8.83px 3.03px;transform:rotate(-28deg);-webkit-text-stroke:0.25px #222;">CD16</div>
<div class="t" style="left:303.47px;top:320.77px;font-size:6.9px;color:#222;transform-origin:8.83px 3.03px;transform:rotate(-28deg);-webkit-text-stroke:0.25px #222;">CD19</div>
<div class="t" style="left:330.33px;top:320.87px;font-size:6.9px;color:#222;transform-origin:6.97px 3.03px;transform:rotate(-28deg);-webkit-text-stroke:0.25px #222;">CD4</div>
<div class="t" style="left:353.7px;top:319.97px;font-size:6.9px;color:#222;transform-origin:6.9px 3.03px;transform:rotate(-28deg);-webkit-text-stroke:0.25px #222;">CD8</div>
<div class="t" style="left:21.7px;top:343.13px;font-size:13.57px;color:#111;font-weight:bold;transform-origin:4.95px 6.37px;transform:scaleX(0.9749);-webkit-text-stroke:0.35px #111;">C</div>
<div class="t" style="left:83.28px;top:364.72px;font-size:7.6px;color:#444;transform-origin:4.26px 3.38px;transform:scaleX(0.8500);">30</div>
<div class="t" style="left:83.28px;top:387.52px;font-size:7.6px;color:#444;transform-origin:4.29px 3.38px;transform:scaleX(0.8500);">25</div>
<div class="t" style="left:83.28px;top:408.62px;font-size:7.6px;color:#444;transform-origin:4.29px 3.38px;transform:scaleX(0.8500);">20</div>
<div class="t" style="left:83.26px;top:429.82px;font-size:7.6px;color:#444;transform-origin:4.41px 3.38px;transform:scaleX(0.8500);">15</div>
<div class="t" style="left:83.26px;top:455.12px;font-size:7.6px;color:#444;transform-origin:4.41px 3.38px;transform:scaleX(0.8500);">10</div>
<div class="t" style="left:87.22px;top:476.42px;font-size:7.6px;color:#444;transform-origin:2.13px 3.38px;transform:scaleX(0.8500);">5</div>
<div class="t" style="left:0.53px;top:414.14px;font-size:7.7px;color:#3a3a3a;transform-origin:70.57px 4.16px;transform:rotate(-90deg) scaleX(0.9689);-webkit-text-stroke:0.12px #3a3a3a;">% of expressed genes containing dHMRs</div>
<div class="t" style="left:108.01px;top:507.19px;font-size:7.86px;color:#333;transform-origin:10.14px 3.51px;transform:scaleX(0.9443);-webkit-text-stroke:0.15px #333;">CD14</div>
<div class="t" style="left:151.99px;top:507.19px;font-size:7.86px;color:#333;transform-origin:10.06px 3.51px;transform:scaleX(1.0140);-webkit-text-stroke:0.15px #333;">CD16</div>
<div class="t" style="left:198.14px;top:507.19px;font-size:7.86px;color:#333;transform-origin:10.06px 3.51px;transform:scaleX(0.9882);-webkit-text-stroke:0.15px #333;">CD19</div>
<div class="t" style="left:245.56px;top:507.19px;font-size:7.86px;color:#333;transform-origin:7.94px 3.51px;transform:scaleX(1.0009);-webkit-text-stroke:0.15px #333;">CD4</div>
<div class="t" style="left:288.49px;top:507.19px;font-size:7.86px;color:#333;transform-origin:7.86px 3.51px;transform:scaleX(1.0048);-webkit-text-stroke:0.15px #333;">CD8</div>
<div class="t" style="left:-0.2px;top:523.96px;font-size:10.43px;color:#222;transform-origin:54.7px 4.79px;transform:scaleX(0.6702);">No of active Transcripts</div>
<div class="t" style="left:29.27px;top:540.76px;font-size:10.43px;color:#222;transform-origin:28.63px 4.79px;transform:scaleX(0.6009);">No of HMRs</div>
<div class="t" style="left:106.32px;top:523.46px;font-size:10.71px;color:#222;transform-origin:14.68px 4.94px;transform:scaleX(0.6186);">11576</div>
<div class="t" style="left:109.24px;top:541.05px;font-size:10.14px;color:#222;transform-origin:11.56px 4.65px;transform:scaleX(0.6557);">1824</div>
<div class="t" style="left:152.59px;top:523.46px;font-size:10.71px;color:#222;transform-origin:11.46px 4.94px;transform:scaleX(0.6252);">3811</div>
<div class="t" style="left:153.7px;top:541.05px;font-size:10.14px;color:#222;transform-origin:10.7px 4.65px;transform:scaleX(0.7331);">1119</div>
<div class="t" style="left:195.65px;top:523.46px;font-size:10.71px;color:#222;transform-origin:11.95px 4.94px;transform:scaleX(0.6266);">6347</div>
<div class="t" style="left:199.48px;top:541.05px;font-size:10.14px;color:#222;transform-origin:8.52px 4.65px;transform:scaleX(0.6802);">670</div>
<div class="t" style="left:239.2px;top:523.46px;font-size:10.71px;color:#222;transform-origin:12px 4.94px;transform:scaleX(0.6179);">8594</div>
<div class="t" style="left:243.23px;top:541.05px;font-size:10.14px;color:#222;transform-origin:8.42px 4.65px;transform:scaleX(0.6739);">883</div>
<div class="t" style="left:280.35px;top:523.46px;font-size:10.71px;color:#222;transform-origin:15.05px 4.94px;transform:scaleX(0.6164);">10987</div>
<div class="t" style="left:285.98px;top:541.05px;font-size:10.14px;color:#222;transform-origin:8.42px 4.65px;transform:scaleX(0.6427);">872</div>
<div class="t" style="left:21.47px;top:570.68px;font-size:13.29px;color:#111;font-weight:bold;transform-origin:4.98px 6.22px;transform:scaleX(1.0612);-webkit-text-stroke:0.35px #111;">D</div>
<div class="t" style="left:59.47px;top:697.47px;font-size:5.1px;color:#333;transform-origin:1.43px 2.13px;transform:scaleX(1.15) rotate(-90deg);-webkit-text-stroke:0.1px #444;">0</div>
<div class="t" style="left:58.02px;top:676.77px;font-size:5.1px;color:#333;transform-origin:2.88px 2.13px;transform:scaleX(1.15) rotate(-90deg);-webkit-text-stroke:0.1px #444;">20</div>
<div class="t" style="left:58.09px;top:656.17px;font-size:5.1px;color:#333;transform-origin:2.81px 2.13px;transform:scaleX(1.15) rotate(-90deg);-webkit-text-stroke:0.1px #444;">40</div>
<div class="t" style="left:58.02px;top:635.67px;font-size:5.1px;color:#333;transform-origin:2.88px 2.13px;transform:scaleX(1.15) rotate(-90deg);-webkit-text-stroke:0.1px #444;">60</div>
<div class="t" style="left:58.04px;top:614.87px;font-size:5.1px;color:#333;transform-origin:2.86px 2.13px;transform:scaleX(1.15) rotate(-90deg);-webkit-text-stroke:0.1px #444;">80</div>
<div class="t" style="left:56.54px;top:593.87px;font-size:5.1px;color:#333;transform-origin:4.36px 2.13px;transform:scaleX(1.15) rotate(-90deg);-webkit-text-stroke:0.1px #444;">100</div>
<div class="t" style="left:30.33px;top:636.72px;font-size:7.2px;color:#333;transform-origin:19.37px 3.18px;transform:scaleX(1.15) rotate(-90deg) scaleX(0.9738);">% of rHMRs</div>
<div class="t" style="left:76.5px;top:709.07px;font-size:6.9px;color:#222;transform-origin:8.9px 3.03px;transform:rotate(-28deg);-webkit-text-stroke:0.25px #222;">CD14</div>
<div class="t" style="left:102.17px;top:709.77px;font-size:6.9px;color:#222;transform-origin:8.83px 3.03px;transform:rotate(-28deg);-webkit-text-stroke:0.25px #222;">CD16</div>
<div class="t" style="left:125.07px;top:710.77px;font-size:6.9px;color:#222;transform-origin:8.83px 3.03px;transform:rotate(-28deg);-webkit-text-stroke:0.25px #222;">CD19</div>
<div class="t" style="left:152.33px;top:710.27px;font-size:6.9px;color:#222;transform-origin:6.97px 3.03px;transform:rotate(-28deg);-webkit-text-stroke:0.25px #222;">CD4</div>
<div class="t" style="left:175.8px;top:709.67px;font-size:6.9px;color:#222;transform-origin:6.9px 3.03px;transform:rotate(-28deg);-webkit-text-stroke:0.25px #222;">CD8</div>
<div class="t" style="left:314.45px;top:570.99px;font-size:13.86px;color:#111;font-weight:bold;transform-origin:4.85px 6.51px;transform:scaleX(0.8892);-webkit-text-stroke:0.35px #111;">E</div>
<div class="t" style="left:329.33px;top:699.47px;font-size:4.9px;color:#333;transform-origin:1.37px 2.03px;transform:scaleX(1.12) rotate(-90deg);-webkit-text-stroke:0.1px #444;">0</div>
<div class="t" style="left:327.93px;top:674.73px;font-size:4.9px;color:#333;transform-origin:2.77px 2.03px;transform:scaleX(1.12) rotate(-90deg);-webkit-text-stroke:0.1px #444;">20</div>
<div class="t" style="left:328px;top:649.99px;font-size:4.9px;color:#333;transform-origin:2.69px 2.03px;transform:scaleX(1.12) rotate(-90deg);-webkit-text-stroke:0.1px #444;">40</div>
<div class="t" style="left:327.93px;top:625.25px;font-size:4.9px;color:#333;transform-origin:2.77px 2.03px;transform:scaleX(1.12) rotate(-90deg);-webkit-text-stroke:0.1px #444;">60</div>
<div class="t" style="left:327.96px;top:600.51px;font-size:4.9px;color:#333;transform-origin:2.74px 2.03px;transform:scaleX(1.12) rotate(-90deg);-webkit-text-stroke:0.1px #444;">80</div>
<div class="t" style="left:326.51px;top:575.77px;font-size:4.9px;color:#333;transform-origin:4.19px 2.03px;transform:scaleX(1.12) rotate(-90deg);-webkit-text-stroke:0.1px #444;">100</div>
<div class="t" style="left:304.45px;top:637.22px;font-size:5px;color:#333;transform-origin:13.45px 2.08px;transform:scaleX(1.1) rotate(-90deg) scaleX(0.9887);-webkit-text-stroke:0.1px #444;">% of rHMRs</div>
<div class="t" style="left:347.29px;top:711.42px;font-size:6.6px;color:#222;transform-origin:8.51px 2.88px;transform:rotate(-28deg);-webkit-text-stroke:0.25px #222;">CD14</div>
<div class="t" style="left:373.55px;top:711.42px;font-size:6.6px;color:#222;transform-origin:8.45px 2.88px;transform:rotate(-28deg);-webkit-text-stroke:0.25px #222;">CD16</div>
<div class="t" style="left:396.75px;top:711.92px;font-size:6.6px;color:#222;transform-origin:8.45px 2.88px;transform:rotate(-28deg);-webkit-text-stroke:0.25px #222;">CD19</div>
<div class="t" style="left:423.13px;top:712.52px;font-size:6.6px;color:#222;transform-origin:6.67px 2.88px;transform:rotate(-28deg);-webkit-text-stroke:0.25px #222;">CD4</div>
<div class="t" style="left:447.1px;top:711.62px;font-size:6.6px;color:#222;transform-origin:6.6px 2.88px;transform:rotate(-28deg);-webkit-text-stroke:0.25px #222;">CD8</div>
</body></html>
